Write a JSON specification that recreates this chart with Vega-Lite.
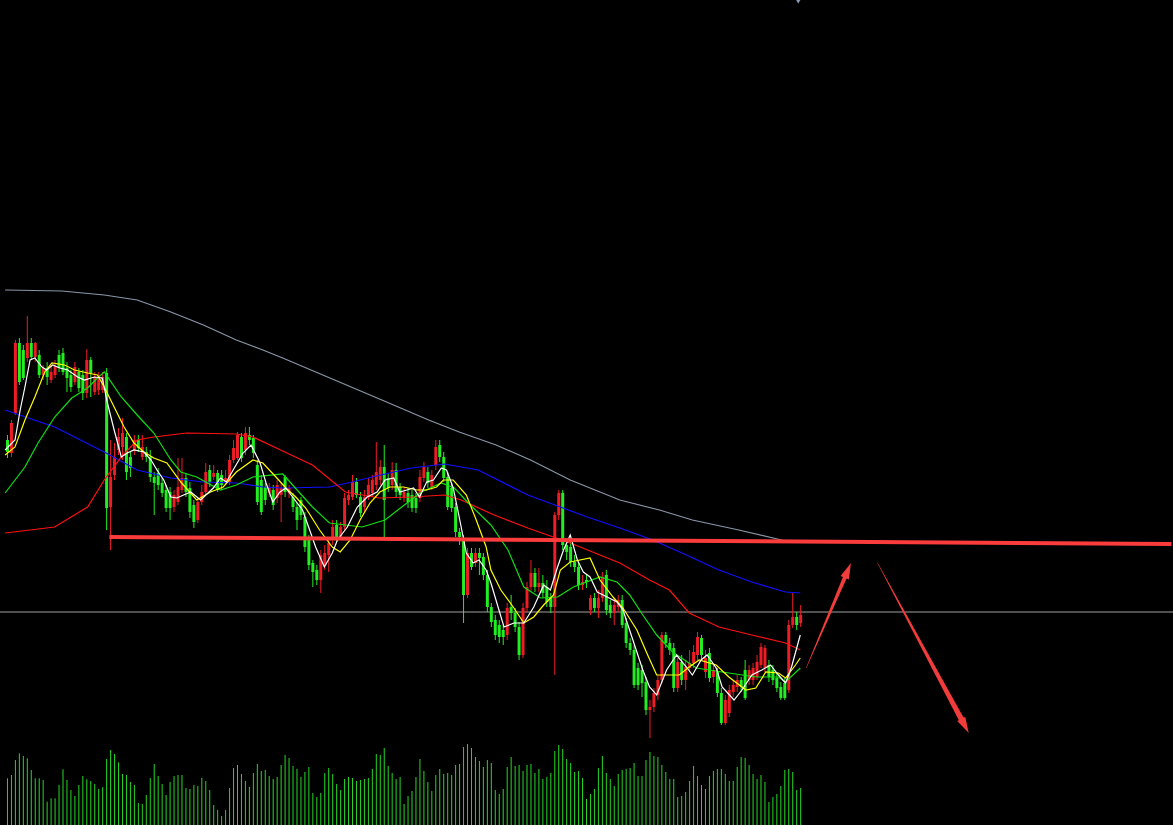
{
"$schema": "https://vega.github.io/schema/vega-lite/v6.json",
"width": 1173, "height": 825, "padding": 0,
"autosize": {"type": "none"},
"background": "#000000",
"config": {"view": {"stroke": null}},
"resolve": {"scale": {"y": "independent", "color": "independent", "size": "independent", "angle": "independent"}},
"datasets": {
"candles": [
{"i":0,"open":560,"high":565,"low":542,"close":548,"volume":4670},
{"i":1,"open":547,"high":580,"low":543,"close":577,"volume":5000},
{"i":2,"open":587,"high":660,"low":585,"close":657,"volume":6500},
{"i":3,"open":657,"high":662,"low":615,"close":618,"volume":7170},
{"i":4,"open":650,"high":655,"low":620,"close":622,"volume":6900},
{"i":5,"open":642,"high":684,"low":638,"close":657,"volume":6670},
{"i":6,"open":657,"high":662,"low":640,"close":643,"volume":5500},
{"i":7,"open":643,"high":658,"low":638,"close":657,"volume":4670},
{"i":8,"open":645,"high":650,"low":622,"close":625,"volume":4670},
{"i":9,"open":625,"high":635,"low":620,"close":632,"volume":4500},
{"i":10,"open":632,"high":638,"low":615,"close":623,"volume":2330},
{"i":11,"open":620,"high":635,"low":617,"close":628,"volume":2670},
{"i":12,"open":625,"high":640,"low":622,"close":634,"volume":2670},
{"i":13,"open":645,"high":650,"low":628,"close":632,"volume":4000},
{"i":14,"open":647,"high":652,"low":625,"close":628,"volume":5570},
{"i":15,"open":632,"high":638,"low":608,"close":622,"volume":4500},
{"i":16,"open":625,"high":630,"low":608,"close":613,"volume":3500},
{"i":17,"open":618,"high":638,"low":615,"close":633,"volume":2900},
{"i":18,"open":628,"high":632,"low":608,"close":612,"volume":4000},
{"i":19,"open":625,"high":630,"low":600,"close":607,"volume":4900},
{"i":20,"open":607,"high":651,"low":602,"close":640,"volume":4570},
{"i":21,"open":640,"high":643,"low":603,"close":627,"volume":4400},
{"i":22,"open":608,"high":628,"low":605,"close":623,"volume":4100},
{"i":23,"open":610,"high":628,"low":605,"close":622,"volume":3600},
{"i":24,"open":610,"high":628,"low":607,"close":623,"volume":3770},
{"i":25,"open":627,"high":632,"low":470,"close":492,"volume":6600},
{"i":26,"open":493,"high":560,"low":450,"close":523,"volume":7500},
{"i":27,"open":525,"high":557,"low":520,"close":543,"volume":7100},
{"i":28,"open":550,"high":572,"low":545,"close":563,"volume":6270},
{"i":29,"open":553,"high":582,"low":540,"close":567,"volume":5100},
{"i":30,"open":563,"high":567,"low":520,"close":528,"volume":5000},
{"i":31,"open":543,"high":548,"low":523,"close":532,"volume":4300},
{"i":32,"open":550,"high":565,"low":545,"close":560,"volume":4000},
{"i":33,"open":560,"high":565,"low":548,"close":552,"volume":2200},
{"i":34,"open":543,"high":565,"low":540,"close":553,"volume":2100},
{"i":35,"open":548,"high":553,"low":538,"close":543,"volume":3000},
{"i":36,"open":543,"high":550,"low":518,"close":523,"volume":4700},
{"i":37,"open":523,"high":528,"low":485,"close":517,"volume":6100},
{"i":38,"open":527,"high":532,"low":510,"close":515,"volume":4900},
{"i":39,"open":517,"high":522,"low":503,"close":507,"volume":4100},
{"i":40,"open":510,"high":515,"low":488,"close":492,"volume":3000},
{"i":41,"open":508,"high":513,"low":480,"close":492,"volume":4300},
{"i":42,"open":493,"high":510,"low":488,"close":505,"volume":4900},
{"i":43,"open":498,"high":542,"low":495,"close":513,"volume":5000},
{"i":44,"open":510,"high":542,"low":507,"close":522,"volume":5000},
{"i":45,"open":522,"high":527,"low":503,"close":508,"volume":3700},
{"i":46,"open":512,"high":518,"low":482,"close":488,"volume":3600},
{"i":47,"open":495,"high":500,"low":472,"close":478,"volume":4000},
{"i":48,"open":480,"high":502,"low":477,"close":498,"volume":3900},
{"i":49,"open":498,"high":515,"low":495,"close":508,"volume":4700},
{"i":50,"open":508,"high":537,"low":505,"close":528,"volume":4400},
{"i":51,"open":530,"high":535,"low":513,"close":518,"volume":3500},
{"i":52,"open":523,"high":535,"low":520,"close":527,"volume":2000},
{"i":53,"open":527,"high":530,"low":508,"close":510,"volume":1500},
{"i":54,"open":525,"high":530,"low":510,"close":515,"volume":900},
{"i":55,"open":518,"high":530,"low":515,"close":522,"volume":1500},
{"i":56,"open":518,"high":545,"low":515,"close":540,"volume":3700},
{"i":57,"open":540,"high":560,"low":537,"close":552,"volume":5700},
{"i":58,"open":542,"high":568,"low":540,"close":565,"volume":6000},
{"i":59,"open":563,"high":567,"low":538,"close":542,"volume":5100},
{"i":60,"open":550,"high":573,"low":545,"close":567,"volume":4400},
{"i":61,"open":565,"high":573,"low":555,"close":560,"volume":3800},
{"i":62,"open":562,"high":565,"low":542,"close":547,"volume":5200},
{"i":63,"open":535,"high":540,"low":495,"close":498,"volume":6100},
{"i":64,"open":520,"high":525,"low":485,"close":488,"volume":5400},
{"i":65,"open":513,"high":517,"low":495,"close":500,"volume":5500},
{"i":66,"open":507,"high":517,"low":503,"close":512,"volume":4900},
{"i":67,"open":510,"high":515,"low":490,"close":495,"volume":4600},
{"i":68,"open":502,"high":520,"low":497,"close":515,"volume":4800},
{"i":69,"open":505,"high":517,"low":478,"close":512,"volume":6000},
{"i":70,"open":523,"high":525,"low":503,"close":508,"volume":7000},
{"i":71,"open":507,"high":515,"low":502,"close":512,"volume":6700},
{"i":72,"open":503,"high":507,"low":488,"close":493,"volume":5900},
{"i":73,"open":493,"high":497,"low":470,"close":480,"volume":5600},
{"i":74,"open":500,"high":503,"low":480,"close":485,"volume":4800},
{"i":75,"open":483,"high":488,"low":448,"close":453,"volume":5300},
{"i":76,"open":462,"high":465,"low":430,"close":435,"volume":5800},
{"i":77,"open":437,"high":440,"low":413,"close":428,"volume":3200},
{"i":78,"open":430,"high":435,"low":415,"close":420,"volume":2800},
{"i":79,"open":420,"high":450,"low":407,"close":445,"volume":3200},
{"i":80,"open":435,"high":455,"low":430,"close":447,"volume":5200},
{"i":81,"open":445,"high":460,"low":428,"close":457,"volume":5700},
{"i":82,"open":460,"high":480,"low":455,"close":473,"volume":5100},
{"i":83,"open":475,"high":480,"low":458,"close":463,"volume":4100},
{"i":84,"open":463,"high":478,"low":460,"close":473,"volume":3500},
{"i":85,"open":473,"high":507,"low":470,"close":502,"volume":4600},
{"i":86,"open":500,"high":510,"low":495,"close":505,"volume":4800},
{"i":87,"open":503,"high":525,"low":500,"close":518,"volume":4700},
{"i":88,"open":518,"high":522,"low":502,"close":505,"volume":4400},
{"i":89,"open":503,"high":508,"low":483,"close":487,"volume":4500},
{"i":90,"open":493,"high":510,"low":488,"close":503,"volume":4600},
{"i":91,"open":503,"high":522,"low":500,"close":515,"volume":4700},
{"i":92,"open":507,"high":525,"low":503,"close":520,"volume":5600},
{"i":93,"open":515,"high":558,"low":510,"close":528,"volume":7100},
{"i":94,"open":520,"high":540,"low":515,"close":533,"volume":7000},
{"i":95,"open":533,"high":555,"low":463,"close":500,"volume":7700},
{"i":96,"open":522,"high":527,"low":508,"close":512,"volume":5900},
{"i":97,"open":515,"high":538,"low":510,"close":530,"volume":5200},
{"i":98,"open":530,"high":537,"low":503,"close":508,"volume":4600},
{"i":99,"open":513,"high":517,"low":500,"close":505,"volume":4800},
{"i":100,"open":502,"high":513,"low":498,"close":508,"volume":2100},
{"i":101,"open":507,"high":512,"low":492,"close":498,"volume":2900},
{"i":102,"open":505,"high":510,"low":488,"close":492,"volume":3400},
{"i":103,"open":502,"high":507,"low":487,"close":492,"volume":4800},
{"i":104,"open":502,"high":530,"low":498,"close":523,"volume":6600},
{"i":105,"open":522,"high":538,"low":518,"close":533,"volume":5400},
{"i":106,"open":528,"high":533,"low":512,"close":517,"volume":4300},
{"i":107,"open":513,"high":530,"low":510,"close":525,"volume":3400},
{"i":108,"open":535,"high":560,"low":530,"close":553,"volume":5000},
{"i":109,"open":555,"high":560,"low":538,"close":543,"volume":5600},
{"i":110,"open":543,"high":548,"low":518,"close":522,"volume":5100},
{"i":111,"open":523,"high":528,"low":490,"close":493,"volume":5200},
{"i":112,"open":512,"high":517,"low":488,"close":492,"volume":5000},
{"i":113,"open":493,"high":497,"low":463,"close":468,"volume":6000},
{"i":114,"open":468,"high":472,"low":455,"close":463,"volume":6100},
{"i":115,"open":460,"high":465,"low":377,"close":405,"volume":7800},
{"i":116,"open":405,"high":452,"low":402,"close":447,"volume":8100},
{"i":117,"open":447,"high":452,"low":430,"close":433,"volume":7700},
{"i":118,"open":437,"high":452,"low":433,"close":447,"volume":6800},
{"i":119,"open":447,"high":452,"low":425,"close":442,"volume":6400},
{"i":120,"open":443,"high":447,"low":420,"close":425,"volume":5800},
{"i":121,"open":425,"high":430,"low":388,"close":393,"volume":6500},
{"i":122,"open":393,"high":397,"low":373,"close":378,"volume":6200},
{"i":123,"open":380,"high":385,"low":360,"close":365,"volume":3500},
{"i":124,"open":375,"high":380,"low":357,"close":363,"volume":3100},
{"i":125,"open":370,"high":375,"low":355,"close":363,"volume":3600},
{"i":126,"open":365,"high":397,"low":360,"close":392,"volume":5800},
{"i":127,"open":393,"high":405,"low":380,"close":387,"volume":6800},
{"i":128,"open":387,"high":392,"low":368,"close":373,"volume":5900},
{"i":129,"open":373,"high":378,"low":340,"close":345,"volume":6000},
{"i":130,"open":345,"high":397,"low":342,"close":392,"volume":5400},
{"i":131,"open":392,"high":418,"low":388,"close":413,"volume":6000},
{"i":132,"open":413,"high":440,"low":408,"close":427,"volume":6100},
{"i":133,"open":427,"high":432,"low":408,"close":413,"volume":5200},
{"i":134,"open":413,"high":432,"low":408,"close":417,"volume":5600},
{"i":135,"open":417,"high":425,"low":402,"close":407,"volume":4600},
{"i":136,"open":413,"high":420,"low":393,"close":398,"volume":4800},
{"i":137,"open":402,"high":407,"low":387,"close":393,"volume":5200},
{"i":138,"open":393,"high":488,"low":325,"close":485,"volume":7400},
{"i":139,"open":485,"high":510,"low":480,"close":507,"volume":8000},
{"i":140,"open":507,"high":510,"low":450,"close":455,"volume":7600},
{"i":141,"open":455,"high":460,"low":440,"close":448,"volume":6600},
{"i":142,"open":453,"high":460,"low":433,"close":438,"volume":6200},
{"i":143,"open":438,"high":445,"low":428,"close":433,"volume":5300},
{"i":144,"open":433,"high":438,"low":410,"close":415,"volume":5400},
{"i":145,"open":415,"high":425,"low":410,"close":418,"volume":4700},
{"i":146,"open":420,"high":425,"low":412,"close":418,"volume":2600},
{"i":147,"open":390,"high":405,"low":385,"close":402,"volume":3100},
{"i":148,"open":402,"high":407,"low":388,"close":392,"volume":3600},
{"i":149,"open":392,"high":410,"low":382,"close":402,"volume":5700},
{"i":150,"open":402,"high":428,"low":398,"close":423,"volume":6900},
{"i":151,"open":425,"high":430,"low":385,"close":390,"volume":5200},
{"i":152,"open":395,"high":400,"low":382,"close":387,"volume":4600},
{"i":153,"open":387,"high":402,"low":375,"close":395,"volume":3900},
{"i":154,"open":393,"high":405,"low":388,"close":400,"volume":5100},
{"i":155,"open":400,"high":405,"low":372,"close":375,"volume":5500},
{"i":156,"open":377,"high":382,"low":352,"close":357,"volume":5600},
{"i":157,"open":357,"high":362,"low":345,"close":350,"volume":5700},
{"i":158,"open":350,"high":355,"low":312,"close":315,"volume":6200},
{"i":159,"open":332,"high":337,"low":310,"close":315,"volume":4900},
{"i":160,"open":330,"high":335,"low":303,"close":317,"volume":4900},
{"i":161,"open":318,"high":323,"low":285,"close":290,"volume":6500},
{"i":162,"open":290,"high":300,"low":262,"close":293,"volume":7300},
{"i":163,"open":293,"high":312,"low":288,"close":307,"volume":6900},
{"i":164,"open":305,"high":325,"low":300,"close":320,"volume":6800},
{"i":165,"open":320,"high":368,"low":317,"close":365,"volume":6000},
{"i":166,"open":365,"high":368,"low":352,"close":357,"volume":5300},
{"i":167,"open":357,"high":362,"low":345,"close":350,"volume":4600},
{"i":168,"open":352,"high":357,"low":308,"close":312,"volume":4600},
{"i":169,"open":312,"high":342,"low":308,"close":338,"volume":2800},
{"i":170,"open":338,"high":345,"low":315,"close":320,"volume":2900},
{"i":171,"open":320,"high":340,"low":310,"close":333,"volume":3300},
{"i":172,"open":332,"high":350,"low":328,"close":337,"volume":4400},
{"i":173,"open":337,"high":355,"low":332,"close":348,"volume":5900},
{"i":174,"open":345,"high":368,"low":340,"close":363,"volume":4900},
{"i":175,"open":362,"high":365,"low":340,"close":345,"volume":4000},
{"i":176,"open":328,"high":350,"low":322,"close":342,"volume":3600},
{"i":177,"open":347,"high":352,"low":318,"close":322,"volume":4900},
{"i":178,"open":323,"high":335,"low":317,"close":330,"volume":5400},
{"i":179,"open":328,"high":332,"low":303,"close":307,"volume":5600},
{"i":180,"open":307,"high":312,"low":275,"close":277,"volume":5600},
{"i":181,"open":277,"high":305,"low":275,"close":300,"volume":5100},
{"i":182,"open":287,"high":315,"low":283,"close":310,"volume":4400},
{"i":183,"open":308,"high":320,"low":303,"close":315,"volume":4400},
{"i":184,"open":313,"high":325,"low":308,"close":320,"volume":5800},
{"i":185,"open":320,"high":323,"low":308,"close":313,"volume":6800},
{"i":186,"open":330,"high":340,"low":300,"close":302,"volume":6700},
{"i":187,"open":320,"high":335,"low":315,"close":330,"volume":6000},
{"i":188,"open":320,"high":337,"low":315,"close":332,"volume":5100},
{"i":189,"open":323,"high":345,"low":320,"close":338,"volume":4600},
{"i":190,"open":335,"high":357,"low":332,"close":353,"volume":5000},
{"i":191,"open":332,"high":355,"low":328,"close":352,"volume":4300},
{"i":192,"open":335,"high":340,"low":318,"close":323,"volume":2300},
{"i":193,"open":330,"high":335,"low":315,"close":320,"volume":2800},
{"i":194,"open":322,"high":327,"low":308,"close":312,"volume":3100},
{"i":195,"open":313,"high":318,"low":300,"close":302,"volume":3900},
{"i":196,"open":317,"high":322,"low":300,"close":302,"volume":5500},
{"i":197,"open":310,"high":380,"low":307,"close":375,"volume":5600},
{"i":198,"open":375,"high":407,"low":372,"close":383,"volume":5300},
{"i":199,"open":383,"high":388,"low":370,"close":375,"volume":3500},
{"i":200,"open":377,"high":395,"low":373,"close":385,"volume":3700}
],
"ma": [
{"line":"MA200","i":-0.6,"value":710},{"line":"MA200","i":13.7,"value":709},{"line":"MA200","i":24.4,"value":705},{"line":"MA200","i":32.7,"value":700},{"line":"MA200","i":41.2,"value":688},{"line":"MA200","i":49.4,"value":675},{"line":"MA200","i":57.7,"value":660},{"line":"MA200","i":64.4,"value":650},{"line":"MA200","i":69.4,"value":642},{"line":"MA200","i":81.9,"value":621},{"line":"MA200","i":94.4,"value":600},{"line":"MA200","i":106.2,"value":580},{"line":"MA200","i":113.9,"value":568},{"line":"MA200","i":123.2,"value":555},{"line":"MA200","i":131.9,"value":540},{"line":"MA200","i":139.4,"value":525},{"line":"MA200","i":141.9,"value":520},{"line":"MA200","i":154.4,"value":500},{"line":"MA200","i":164.4,"value":490},{"line":"MA200","i":172.7,"value":480},{"line":"MA200","i":184.4,"value":470},{"line":"MA200","i":195.2,"value":460},{"line":"MA200","i":196.9,"value":459},
{"line":"MA100","i":-0.6,"value":590},{"line":"MA100","i":11.9,"value":573},{"line":"MA100","i":24.4,"value":548},{"line":"MA100","i":32.7,"value":530},{"line":"MA100","i":41.2,"value":522},{"line":"MA100","i":49.4,"value":518},{"line":"MA100","i":57.7,"value":517},{"line":"MA100","i":64.4,"value":513},{"line":"MA100","i":69.4,"value":512},{"line":"MA100","i":81.2,"value":513},{"line":"MA100","i":86.9,"value":518},{"line":"MA100","i":91.9,"value":523},{"line":"MA100","i":101.9,"value":532},{"line":"MA100","i":110.2,"value":536},{"line":"MA100","i":118.7,"value":530},{"line":"MA100","i":131.2,"value":505},{"line":"MA100","i":139.4,"value":493},{"line":"MA100","i":146.2,"value":483},{"line":"MA100","i":154.4,"value":472},{"line":"MA100","i":162.7,"value":460},{"line":"MA100","i":171.2,"value":445},{"line":"MA100","i":179.4,"value":430},{"line":"MA100","i":187.7,"value":418},{"line":"MA100","i":196.2,"value":408},{"line":"MA100","i":199.9,"value":407},
{"line":"MA60","i":-0.6,"value":467},{"line":"MA60","i":11.9,"value":473},{"line":"MA60","i":20.2,"value":493},{"line":"MA60","i":24.4,"value":520},{"line":"MA60","i":28.7,"value":543},{"line":"MA60","i":32.7,"value":560},{"line":"MA60","i":36.9,"value":563},{"line":"MA60","i":45.2,"value":567},{"line":"MA60","i":57.7,"value":566},{"line":"MA60","i":61.9,"value":563},{"line":"MA60","i":69.4,"value":549},{"line":"MA60","i":76.9,"value":535},{"line":"MA60","i":85.2,"value":508},{"line":"MA60","i":93.7,"value":502},{"line":"MA60","i":101.9,"value":503},{"line":"MA60","i":110.2,"value":505},{"line":"MA60","i":114.4,"value":500},{"line":"MA60","i":122.7,"value":485},{"line":"MA60","i":131.2,"value":472},{"line":"MA60","i":141.9,"value":457},{"line":"MA60","i":154.4,"value":437},{"line":"MA60","i":161.9,"value":420},{"line":"MA60","i":166.9,"value":410},{"line":"MA60","i":171.9,"value":387},{"line":"MA60","i":179.4,"value":373},{"line":"MA60","i":187.7,"value":365},{"line":"MA60","i":196.2,"value":357},{"line":"MA60","i":199.9,"value":350},
{"line":"MA20","i":-0.6,"value":507},{"line":"MA20","i":4.4,"value":533},{"line":"MA20","i":7.7,"value":557},{"line":"MA20","i":11.9,"value":583},{"line":"MA20","i":16.2,"value":602},{"line":"MA20","i":20.2,"value":612},{"line":"MA20","i":22.7,"value":622},{"line":"MA20","i":24.4,"value":628},{"line":"MA20","i":28.7,"value":603},{"line":"MA20","i":32.7,"value":585},{"line":"MA20","i":36.9,"value":567},{"line":"MA20","i":41.2,"value":540},{"line":"MA20","i":43.7,"value":528},{"line":"MA20","i":47.7,"value":523},{"line":"MA20","i":53.7,"value":510},{"line":"MA20","i":57.7,"value":515},{"line":"MA20","i":61.9,"value":523},{"line":"MA20","i":69.4,"value":526},{"line":"MA20","i":76.9,"value":493},{"line":"MA20","i":81.2,"value":477},{"line":"MA20","i":89.4,"value":473},{"line":"MA20","i":95.2,"value":480},{"line":"MA20","i":99.4,"value":493},{"line":"MA20","i":104.4,"value":508},{"line":"MA20","i":109.4,"value":517},{"line":"MA20","i":112.7,"value":512},{"line":"MA20","i":116.2,"value":497},{"line":"MA20","i":121.9,"value":475},{"line":"MA20","i":126.2,"value":450},{"line":"MA20","i":130.2,"value":413},{"line":"MA20","i":134.4,"value":402},{"line":"MA20","i":138.7,"value":403},{"line":"MA20","i":142.7,"value":413},{"line":"MA20","i":149.4,"value":423},{"line":"MA20","i":153.7,"value":418},{"line":"MA20","i":156.9,"value":405},{"line":"MA20","i":160.2,"value":385},{"line":"MA20","i":163.7,"value":365},{"line":"MA20","i":167.7,"value":348},{"line":"MA20","i":173.7,"value":332},{"line":"MA20","i":180.2,"value":328},{"line":"MA20","i":188.7,"value":323},{"line":"MA20","i":194.4,"value":323},{"line":"MA20","i":196.2,"value":318},{"line":"MA20","i":199.9,"value":332},
{"line":"MA10","i":-0.6,"value":545},{"line":"MA10","i":1.9,"value":553},{"line":"MA10","i":4.4,"value":580},{"line":"MA10","i":6.9,"value":603},{"line":"MA10","i":9.4,"value":628},{"line":"MA10","i":11.2,"value":637},{"line":"MA10","i":14.4,"value":635},{"line":"MA10","i":16.9,"value":630},{"line":"MA10","i":20.2,"value":627},{"line":"MA10","i":22.7,"value":625},{"line":"MA10","i":24.4,"value":613},{"line":"MA10","i":26.9,"value":593},{"line":"MA10","i":29.4,"value":573},{"line":"MA10","i":31.9,"value":557},{"line":"MA10","i":34.4,"value":548},{"line":"MA10","i":36.9,"value":542},{"line":"MA10","i":40.2,"value":537},{"line":"MA10","i":43.7,"value":518},{"line":"MA10","i":47.7,"value":500},{"line":"MA10","i":51.2,"value":508},{"line":"MA10","i":54.4,"value":513},{"line":"MA10","i":57.7,"value":528},{"line":"MA10","i":61.9,"value":540},{"line":"MA10","i":64.4,"value":537},{"line":"MA10","i":67.7,"value":523},{"line":"MA10","i":70.2,"value":512},{"line":"MA10","i":72.7,"value":503},{"line":"MA10","i":75.2,"value":492},{"line":"MA10","i":78.7,"value":470},{"line":"MA10","i":81.9,"value":453},{"line":"MA10","i":83.9,"value":448},{"line":"MA10","i":86.4,"value":460},{"line":"MA10","i":88.9,"value":480},{"line":"MA10","i":91.4,"value":497},{"line":"MA10","i":93.9,"value":508},{"line":"MA10","i":96.4,"value":513},{"line":"MA10","i":99.9,"value":513},{"line":"MA10","i":103.2,"value":510},{"line":"MA10","i":105.7,"value":510},{"line":"MA10","i":108.2,"value":513},{"line":"MA10","i":109.9,"value":520},{"line":"MA10","i":112.4,"value":520},{"line":"MA10","i":115.7,"value":505},{"line":"MA10","i":118.2,"value":480},{"line":"MA10","i":120.7,"value":453},{"line":"MA10","i":121.9,"value":430},{"line":"MA10","i":124.4,"value":410},{"line":"MA10","i":127.7,"value":392},{"line":"MA10","i":130.2,"value":377},{"line":"MA10","i":132.7,"value":383},{"line":"MA10","i":135.2,"value":395},{"line":"MA10","i":137.7,"value":405},{"line":"MA10","i":139.4,"value":430},{"line":"MA10","i":141.9,"value":438},{"line":"MA10","i":146.9,"value":442},{"line":"MA10","i":149.4,"value":420},{"line":"MA10","i":152.7,"value":403},{"line":"MA10","i":155.2,"value":392},{"line":"MA10","i":158.7,"value":370},{"line":"MA10","i":161.2,"value":347},{"line":"MA10","i":163.7,"value":325},{"line":"MA10","i":169.4,"value":325},{"line":"MA10","i":171.9,"value":333},{"line":"MA10","i":174.4,"value":340},{"line":"MA10","i":178.7,"value":335},{"line":"MA10","i":181.9,"value":323},{"line":"MA10","i":186.2,"value":310},{"line":"MA10","i":188.7,"value":312},{"line":"MA10","i":191.2,"value":328},{"line":"MA10","i":194.4,"value":327},{"line":"MA10","i":196.2,"value":322},{"line":"MA10","i":198.7,"value":335},{"line":"MA10","i":199.9,"value":342},
{"line":"MA5","i":-0.6,"value":550},{"line":"MA5","i":1.9,"value":560},{"line":"MA5","i":3.2,"value":590},{"line":"MA5","i":4.4,"value":613},{"line":"MA5","i":5.7,"value":640},{"line":"MA5","i":6.9,"value":642},{"line":"MA5","i":8.7,"value":633},{"line":"MA5","i":9.9,"value":630},{"line":"MA5","i":11.4,"value":635},{"line":"MA5","i":13.2,"value":632},{"line":"MA5","i":15.2,"value":630},{"line":"MA5","i":17.7,"value":623},{"line":"MA5","i":19.4,"value":620},{"line":"MA5","i":21.9,"value":623},{"line":"MA5","i":23.9,"value":622},{"line":"MA5","i":25.2,"value":597},{"line":"MA5","i":26.9,"value":570},{"line":"MA5","i":28.7,"value":543},{"line":"MA5","i":30.2,"value":547},{"line":"MA5","i":31.9,"value":550},{"line":"MA5","i":34.4,"value":548},{"line":"MA5","i":36.2,"value":540},{"line":"MA5","i":37.7,"value":530},{"line":"MA5","i":39.4,"value":520},{"line":"MA5","i":41.2,"value":503},{"line":"MA5","i":42.7,"value":502},{"line":"MA5","i":46.2,"value":508},{"line":"MA5","i":48.7,"value":500},{"line":"MA5","i":51.9,"value":512},{"line":"MA5","i":53.7,"value":522},{"line":"MA5","i":55.2,"value":518},{"line":"MA5","i":56.9,"value":530},{"line":"MA5","i":59.4,"value":547},{"line":"MA5","i":61.4,"value":555},{"line":"MA5","i":63.7,"value":537},{"line":"MA5","i":65.2,"value":517},{"line":"MA5","i":66.9,"value":498},{"line":"MA5","i":68.7,"value":508},{"line":"MA5","i":70.2,"value":512},{"line":"MA5","i":71.9,"value":503},{"line":"MA5","i":74.4,"value":490},{"line":"MA5","i":76.2,"value":470},{"line":"MA5","i":77.7,"value":453},{"line":"MA5","i":79.9,"value":433},{"line":"MA5","i":81.9,"value":447},{"line":"MA5","i":83.2,"value":460},{"line":"MA5","i":85.7,"value":473},{"line":"MA5","i":88.2,"value":493},{"line":"MA5","i":90.7,"value":503},{"line":"MA5","i":93.2,"value":508},{"line":"MA5","i":95.2,"value":520},{"line":"MA5","i":97.4,"value":522},{"line":"MA5","i":98.9,"value":508},{"line":"MA5","i":100.7,"value":510},{"line":"MA5","i":102.4,"value":512},{"line":"MA5","i":103.9,"value":503},{"line":"MA5","i":105.7,"value":518},{"line":"MA5","i":107.4,"value":520},{"line":"MA5","i":109.4,"value":532},{"line":"MA5","i":110.7,"value":530},{"line":"MA5","i":112.4,"value":512},{"line":"MA5","i":113.9,"value":483},{"line":"MA5","i":115.7,"value":447},{"line":"MA5","i":117.4,"value":437},{"line":"MA5","i":118.9,"value":440},{"line":"MA5","i":120.7,"value":430},{"line":"MA5","i":121.9,"value":417},{"line":"MA5","i":123.7,"value":393},{"line":"MA5","i":125.2,"value":373},{"line":"MA5","i":127.7,"value":377},{"line":"MA5","i":130.2,"value":377},{"line":"MA5","i":132.7,"value":393},{"line":"MA5","i":135.2,"value":415},{"line":"MA5","i":136.9,"value":410},{"line":"MA5","i":138.7,"value":433},{"line":"MA5","i":140.2,"value":450},{"line":"MA5","i":141.9,"value":465},{"line":"MA5","i":143.7,"value":440},{"line":"MA5","i":145.2,"value":428},{"line":"MA5","i":146.9,"value":423},{"line":"MA5","i":148.7,"value":408},{"line":"MA5","i":150.2,"value":405},{"line":"MA5","i":153.7,"value":398},{"line":"MA5","i":155.2,"value":390},{"line":"MA5","i":157.7,"value":360},{"line":"MA5","i":160.2,"value":330},{"line":"MA5","i":161.9,"value":313},{"line":"MA5","i":163.7,"value":305},{"line":"MA5","i":166.2,"value":330},{"line":"MA5","i":168.7,"value":345},{"line":"MA5","i":171.2,"value":333},{"line":"MA5","i":172.7,"value":325},{"line":"MA5","i":174.9,"value":340},{"line":"MA5","i":176.4,"value":345},{"line":"MA5","i":178.7,"value":332},{"line":"MA5","i":180.2,"value":313},{"line":"MA5","i":183.2,"value":300},{"line":"MA5","i":185.2,"value":310},{"line":"MA5","i":187.7,"value":325},{"line":"MA5","i":190.2,"value":330},{"line":"MA5","i":192.4,"value":335},{"line":"MA5","i":194.4,"value":325},{"line":"MA5","i":196.2,"value":317},{"line":"MA5","i":197.7,"value":333},{"line":"MA5","i":199.9,"value":365}
],
"level": [{"i":25.7,"price":463},{"i":293.5,"price":456}],
"arrows": [
{"arrow":"up","i":201.4,"price":332,"w":0.5},{"arrow":"up","i":211.2,"price":423,"w":4},
{"arrow":"down","i":219.4,"price":437,"w":0.5},{"arrow":"down","i":240.5,"price":281,"w":5.5}
],
"heads": [{"i":211.7,"price":427.8,"angle":23},{"i":241.2,"price":275.8,"angle":152}],
"marker": [{"i":199.4,"price":1000}]
},
"layer": [
{"data": {"values": [{}]},
 "mark": {"type": "rule", "color": "#a0a0a0", "strokeWidth": 1},
 "encoding": {"y": {"datum": 388, "type": "quantitative", "scale": {"domain": [175, 1000], "nice": false, "zero": false}, "axis": null}}},
{"data": {"name": "candles"},
 "mark": {"type": "rule", "color": "#24d824", "strokeWidth": 1},
 "encoding": {
  "x": {"field": "i", "type": "quantitative", "scale": {"domain": [-0.625, 292.625], "nice": false, "zero": false}, "axis": null},
  "y": {"field": "volume", "type": "quantitative", "scale": {"domain": [0, 82500], "nice": false}, "axis": null},
  "y2": {"datum": 0}}},
{"data": {"name": "candles"},
 "mark": {"type": "rule", "strokeWidth": 1},
 "encoding": {
  "x": {"field": "i", "type": "quantitative", "scale": {"domain": [-0.625, 292.625], "nice": false, "zero": false}, "axis": null},
  "y": {"field": "high", "type": "quantitative", "scale": {"domain": [175, 1000], "nice": false, "zero": false}, "axis": null},
  "y2": {"field": "low"},
  "color": {"condition": {"test": "datum.close > datum.open", "value": "#ee1c25"}, "value": "#22ee22"}}},
{"data": {"name": "candles"},
 "mark": {"type": "bar", "size": 3},
 "encoding": {
  "x": {"field": "i", "type": "quantitative", "scale": {"domain": [-0.625, 292.625], "nice": false, "zero": false}, "axis": null},
  "y": {"field": "open", "type": "quantitative", "scale": {"domain": [175, 1000], "nice": false, "zero": false}, "axis": null},
  "y2": {"field": "close"},
  "color": {"condition": {"test": "datum.close > datum.open", "value": "#ee1c25"}, "value": "#22ee22"}}},
{"data": {"name": "ma"},
 "mark": {"type": "line", "strokeWidth": 1.2},
 "encoding": {
  "x": {"field": "i", "type": "quantitative", "scale": {"domain": [-0.625, 292.625], "nice": false, "zero": false}, "axis": null},
  "y": {"field": "value", "type": "quantitative", "scale": {"domain": [175, 1000], "nice": false, "zero": false}, "axis": null},
  "color": {"field": "line", "type": "nominal", "legend": null,
   "scale": {"domain": ["MA200", "MA100", "MA60", "MA20", "MA10", "MA5"], "range": ["#8a96a8", "#1010ff", "#ff1010", "#10e010", "#ffff00", "#ffffff"]}}}},
{"data": {"name": "level"},
 "mark": {"type": "line", "color": "#fa3c3c", "strokeWidth": 4},
 "encoding": {
  "x": {"field": "i", "type": "quantitative", "scale": {"domain": [-0.625, 292.625], "nice": false, "zero": false}, "axis": null},
  "y": {"field": "price", "type": "quantitative", "scale": {"domain": [175, 1000], "nice": false, "zero": false}, "axis": null}}},
{"data": {"name": "arrows"},
 "mark": {"type": "trail", "color": "#f23c3c"},
 "encoding": {
  "x": {"field": "i", "type": "quantitative", "scale": {"domain": [-0.625, 292.625], "nice": false, "zero": false}, "axis": null},
  "y": {"field": "price", "type": "quantitative", "scale": {"domain": [175, 1000], "nice": false, "zero": false}, "axis": null},
  "detail": {"field": "arrow"},
  "size": {"field": "w", "type": "quantitative", "scale": null, "legend": null}}},
{"data": {"name": "heads"},
 "mark": {"type": "point", "filled": true, "opacity": 1, "color": "#f23c3c", "size": 400, "shape": "M0,-1L0.45,0.6L-0.45,0.6Z"},
 "encoding": {
  "x": {"field": "i", "type": "quantitative", "scale": {"domain": [-0.625, 292.625], "nice": false, "zero": false}, "axis": null},
  "y": {"field": "price", "type": "quantitative", "scale": {"domain": [175, 1000], "nice": false, "zero": false}, "axis": null},
  "angle": {"field": "angle", "type": "quantitative", "scale": null}}},
{"data": {"name": "marker"},
 "mark": {"type": "point", "filled": true, "opacity": 1, "color": "#8a9bb5", "size": 70, "shape": "triangle-down"},
 "encoding": {
  "x": {"field": "i", "type": "quantitative", "scale": {"domain": [-0.625, 292.625], "nice": false, "zero": false}, "axis": null},
  "y": {"field": "price", "type": "quantitative", "scale": {"domain": [175, 1000], "nice": false, "zero": false}, "axis": null}}}
]
}
